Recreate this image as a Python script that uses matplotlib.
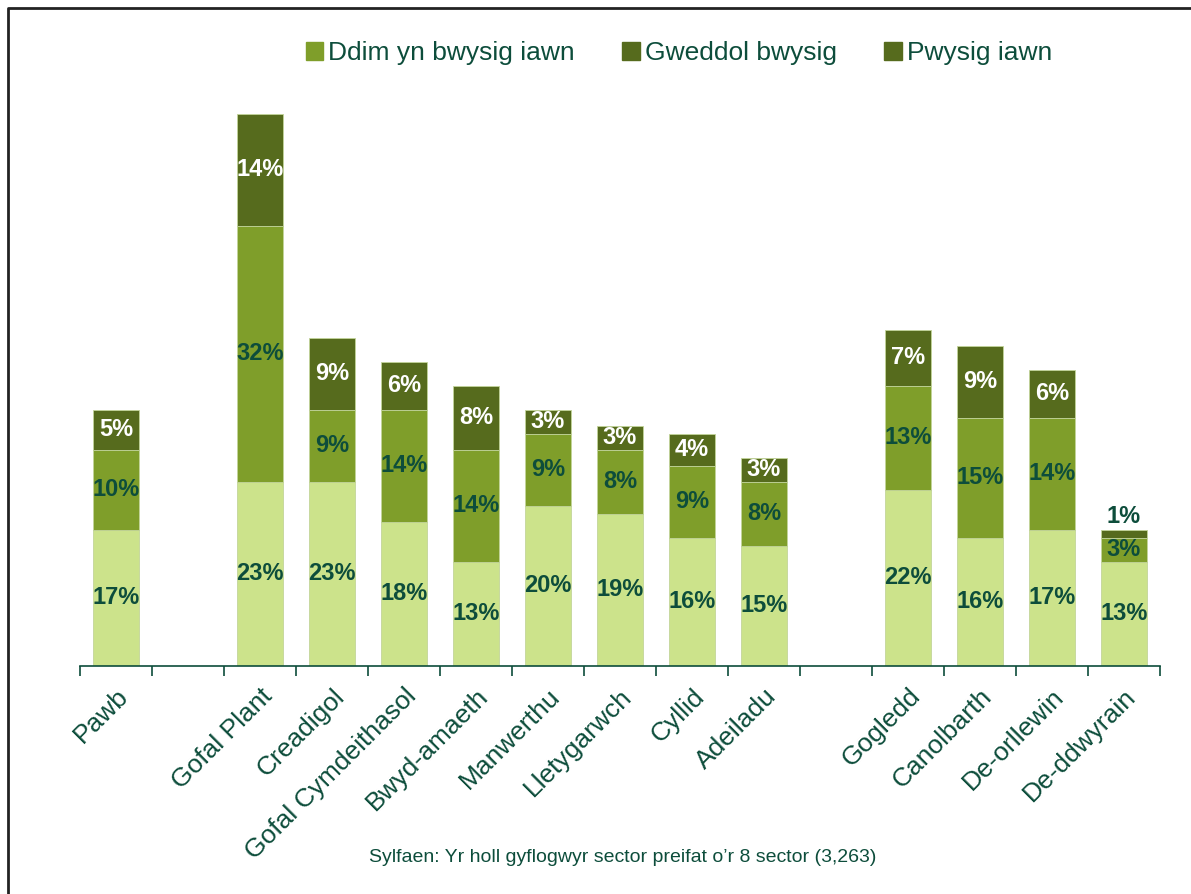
import numpy as np
import matplotlib
matplotlib.use('Agg')
import matplotlib.pyplot as plt
from matplotlib.patches import Patch

# data (percent)
categories = ['Pawb', '', 'Gofal Plant', 'Creadigol', 'Gofal Cymdeithasol', 'Bwyd-amaeth',
              'Manwerthu', 'Lletygarwch', 'Cyllid', 'Adeiladu', '',
              'Gogledd', 'Canolbarth', 'De-orllewin', 'De-ddwyrain']
ddim = [17, 0, 23, 23, 18, 13, 20, 19, 16, 15, 0, 22, 16, 17, 13]
gweddol = [10, 0, 32, 9, 14, 14, 9, 8, 9, 8, 0, 13, 15, 14, 3]
pwysig = [5, 0, 14, 9, 6, 8, 3, 3, 4, 3, 0, 7, 9, 6, 1]
series_names = ['Ddim yn bwysig iawn', 'Gweddol bwysig', 'Pwysig iawn']
note = 'Sylfaen: Yr holl gyflogwyr sector preifat o\u2019r 8 sector (3,263)'

c_light = '#cce38b'
c_mid = '#7f9e2a'
c_dark = '#566b1d'
txt = '#0d4d3b'

plt.rcParams['font.family'] = ['Liberation Sans', 'DejaVu Sans']

fig = plt.figure(figsize=(11.91, 8.94), dpi=100)
ax = fig.add_axes([80/1191, (894-666)/894, 1080/1191, 576/894])

x = np.arange(len(categories))
ddim = np.array(ddim); gweddol = np.array(gweddol); pwysig = np.array(pwysig)
show = np.array([c != '' for c in categories])
w = 0.64
ec = '#c3d59a'
ax.bar(x[show], ddim[show], w, color=c_light, edgecolor=ec, linewidth=0.6)
ax.bar(x[show], gweddol[show], w, bottom=ddim[show], color=c_mid, edgecolor=ec, linewidth=0.6)
ax.bar(x[show], pwysig[show], w, bottom=(ddim+gweddol)[show], color=c_dark, edgecolor=ec, linewidth=0.6)

fs = 17
for i in x[show]:
    ax.text(i, ddim[i]/2, f'{ddim[i]}%', ha='center', va='center', fontsize=fs,
            fontweight='bold', color=txt)
    ax.text(i, ddim[i] + gweddol[i]/2, f'{gweddol[i]}%', ha='center', va='center',
            fontsize=fs, fontweight='bold', color=txt)
    top = ddim[i] + gweddol[i]
    if pwysig[i] >= 2:
        ax.text(i, top + pwysig[i]/2, f'{pwysig[i]}%', ha='center', va='center',
                fontsize=fs, fontweight='bold', color='white')
    else:
        ax.text(i, top + pwysig[i] + 0.3, f'{pwysig[i]}%', ha='center', va='bottom',
                fontsize=fs, fontweight='bold', color=txt)

ax.set_xlim(-0.5, len(categories) - 0.5)
ax.set_ylim(0, 72)
for s in ['top', 'right', 'left']:
    ax.spines[s].set_visible(False)
ax.spines['bottom'].set_color(txt)
ax.spines['bottom'].set_linewidth(1.2)
ax.set_yticks([])

# tick marks at slot boundaries, labels at centres
ax.set_xticks(np.arange(len(categories) + 1) - 0.5)
ax.set_xticklabels([])
ax.tick_params(axis='x', which='major', length=7, width=1.2, color=txt, direction='out')
ax.set_xticks(x, minor=True)
ax.set_xticklabels(categories, minor=True, rotation=45, ha='right', rotation_mode='anchor',
                   fontsize=19, color=txt)
ax.tick_params(axis='x', which='minor', length=0, pad=13)

handles = [Patch(color=c_mid), Patch(color=c_dark), Patch(color=c_dark)]
fig.legend(handles, series_names, loc='center', bbox_to_anchor=(679/1191, 1 - 53/894), ncol=3,
           frameon=False, fontsize=19, handlelength=0.65, handleheight=0.65, handletextpad=0.2,
           columnspacing=1.8, labelcolor=txt)

fig.text(623/1191, 1 - 858/894, note, ha='center', va='center', fontsize=14, color=txt)

# frame line on left and top
fig.add_artist(plt.Line2D([8/1191, 8/1191, 1.01], [-0.01, 1 - 8/894, 1 - 8/894],
                          transform=fig.transFigure, color='#222222', linewidth=2))

fig.savefig('out.png', dpi=100)
